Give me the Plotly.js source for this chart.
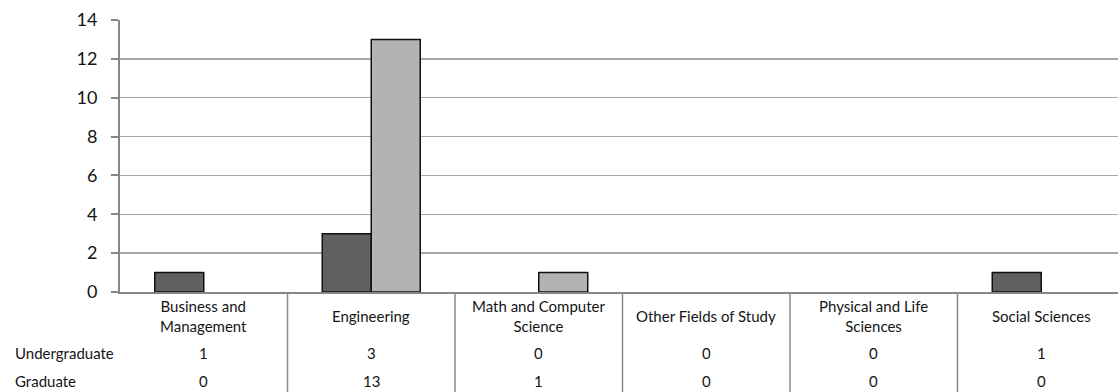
<!DOCTYPE html>
<html>
<head>
<meta charset="utf-8">
<script src="https://cdn.plot.ly/plotly-3.0.1.min.js"></script>
<style>
html,body{margin:0;padding:0;background:#fff;}
#chart{width:1118px;height:392px;}
</style>
</head>
<body>
<div id="chart"></div>
<script>
const categories = ["Business and Management","Engineering","Math and Computer Science","Other Fields of Study","Physical and Life Sciences","Social Sciences"];
const categoryLabels = ["Business and<br>Management","Engineering","Math and Computer<br>Science","Other Fields of Study","Physical and Life<br>Sciences","Social Sciences"];
const undergraduate = [1,3,0,0,0,1];
const graduate = [0,13,1,0,0,0];
const seriesNames = ["Undergraduate","Graduate"];
const yTicks = [0,2,4,6,8,10,12,14];

const FONT = "Lato, 'Open Sans', sans-serif";
const t = 20, b = 100, plotH = 392 - t - b;
const py = p => (t + plotH - p) / plotH; // pixel y -> paper y
const idx = categories.map((c,i)=>i);
const edge = vals => vals.map(v => v > 0 ? 1.5 : 0);

const traces = [
  {type:'bar', name:seriesNames[0], x:idx, y:undergraduate,
   marker:{color:'#606060', line:{color:'#111111', width:edge(undergraduate)}}, hoverinfo:'y'},
  {type:'bar', name:seriesNames[1], x:idx, y:graduate,
   marker:{color:'#b3b3b3', line:{color:'#111111', width:edge(graduate)}}, hoverinfo:'y'}
];

const tf = {family:FONT, size:15, color:'#151515'};
const annotations = [];
idx.forEach(i=>{
  annotations.push({xref:'x', yref:'paper', x:i, y:py(316), text:categoryLabels[i],
    showarrow:false, xanchor:'center', yanchor:'middle', font:tf});
  annotations.push({xref:'x', yref:'paper', x:i, y:py(353), text:String(undergraduate[i]),
    showarrow:false, xanchor:'center', yanchor:'middle', font:tf});
  annotations.push({xref:'x', yref:'paper', x:i, y:py(381), text:String(graduate[i]),
    showarrow:false, xanchor:'center', yanchor:'middle', font:tf});
});
annotations.push({xref:'paper', yref:'paper', x:-107/998, y:py(353), text:seriesNames[0],
  showarrow:false, xanchor:'left', yanchor:'middle', font:tf});
annotations.push({xref:'paper', yref:'paper', x:-107/998, y:py(381), text:seriesNames[1],
  showarrow:false, xanchor:'left', yanchor:'middle', font:tf});

const shapes = [];
for (let i=0;i<categories.length-1;i++){
  shapes.push({type:'line', xref:'x', yref:'paper', x0:i+0.5, x1:i+0.5, y0:0, y1:py(392),
    line:{color:'#8a8a8a', width:1.5}});
}

const layout = {
  width:1118, height:392,
  margin:{l:120, r:0, t:t, b:b},
  paper_bgcolor:'#fff', plot_bgcolor:'#fff',
  showlegend:false,
  barmode:'group', bargap:0.415, bargroupgap:0,
  xaxis:{range:[-0.5, -0.5 + 998/167.5], showticklabels:false, ticks:'',
    showgrid:false, zeroline:false, showline:true, linecolor:'#868686', linewidth:2, fixedrange:true},
  yaxis:{range:[0,14], tickvals:yTicks, ticktext:yTicks.map(String), showgrid:true, gridcolor:'#a8a8a8', gridwidth:1.5,
    zeroline:false, showline:true, linecolor:'#868686', linewidth:2,
    ticks:'outside', ticklen:7, tickcolor:'#868686', tickwidth:2, ticklabelstandoff:10,
    tickfont:{family:FONT, size:18, color:'#151515'}, fixedrange:true},
  annotations:annotations,
  shapes:shapes
};

Plotly.newPlot('chart', traces, layout, {displayModeBar:false, staticPlot:true});
</script>
</body>
</html>
